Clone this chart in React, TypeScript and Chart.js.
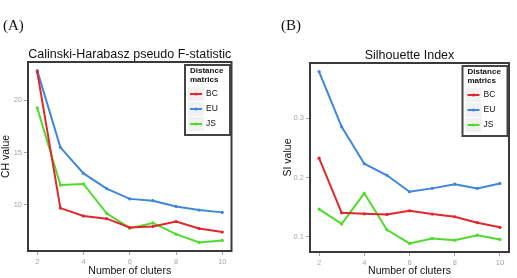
import React, { useEffect, useRef } from "react";
import { Chart, registerables } from "chart.js";

Chart.register(...registerables);

// Number of clusters on the x axis
const clusters = [2, 3, 4, 5, 6, 7, 8, 9, 10];

// Calinski-Harabasz pseudo F-statistic per distance metric
const chBC = [22.7, 9.69, 8.93, 8.68, 7.83, 7.93, 8.4, 7.74, 7.4];
const chEU = [22.83, 15.5, 13.0, 11.55, 10.57, 10.4, 9.85, 9.5, 9.28];
const chJS = [19.27, 11.89, 12.0, 9.19, 7.77, 8.27, 7.2, 6.41, 6.6];

// Silhouette index per distance metric
const siBC = [0.2327, 0.1405, 0.1388, 0.1377, 0.1438, 0.1383, 0.1338, 0.1238, 0.116];
const siEU = [0.3788, 0.2855, 0.2233, 0.2038, 0.176, 0.1817, 0.1888, 0.1817, 0.19];
const siJS = [0.1467, 0.1217, 0.1733, 0.1117, 0.0888, 0.0972, 0.0943, 0.1027, 0.0955];

const xTicks = [2, 4, 6, 8, 10];
const chTicks = [10, 15, 20];
const siTicks = [0.1, 0.2, 0.3];

const metricNames = ["BC", "EU", "JS"];
const metricColors = ["#e2262b", "#3f87d8", "#4fdb2c"];

const SANS = "'Liberation Sans', Arial, Helvetica, sans-serif";

// ggplot-style 5% expansion around the data range
function expand(values: number[]) {
  const lo = Math.min(...values);
  const hi = Math.max(...values);
  const pad = (hi - lo) * 0.05;
  return { min: lo - pad, max: hi + pad };
}

const frameAndKey = {
  id: "frameAndKey",
  afterDatasetsDraw(chart: any) {
    const { ctx, chartArea: a } = chart;
    const title: string = chart.options.plugins.frameAndKey.title;
    ctx.save();

    // panel title
    ctx.fillStyle = "#111";
    ctx.font = `12.5px ${SANS}`;
    ctx.textAlign = "center";
    ctx.textBaseline = "middle";
    ctx.fillText(title, (a.left + a.right) / 2, a.top - 7);

    // panel border
    ctx.strokeStyle = "#3a3a3a";
    ctx.lineWidth = 2;
    ctx.strokeRect(a.left, a.top, a.right - a.left, a.bottom - a.top);

    // legend box in the top-right corner
    const w = 45;
    const h = 70;
    const x = a.right - w - 1.5;
    const y = a.top + 3;
    ctx.fillStyle = "#ffffff";
    ctx.fillRect(x, y, w, h);
    ctx.strokeStyle = "#444";
    ctx.lineWidth = 2;
    ctx.strokeRect(x, y, w, h);

    ctx.fillStyle = "#111";
    ctx.textAlign = "left";
    ctx.font = `bold 8px ${SANS}`;
    ctx.fillText("Distance", x + 5, y + 6);
    ctx.fillText("matrics", x + 5, y + 14.5);

    chart.data.datasets.forEach((ds: any, i: number) => {
      const cy = y + 29 + i * 15;
      ctx.fillStyle = "#f1f1f1";
      ctx.fillRect(x + 3, cy - 7, 16, 14);
      ctx.strokeStyle = ds.borderColor;
      ctx.lineWidth = 2;
      ctx.beginPath();
      ctx.moveTo(x + 5, cy);
      ctx.lineTo(x + 17, cy);
      ctx.stroke();
      ctx.fillStyle = ds.borderColor;
      ctx.beginPath();
      ctx.arc(x + 11, cy, 1.6, 0, Math.PI * 2);
      ctx.fill();
      ctx.fillStyle = "#111";
      ctx.font = `8.5px ${SANS}`;
      ctx.fillText(ds.label, x + 21, cy);
    });
    ctx.restore();
  },
};

type PanelProps = {
  left: number;
  width: number;
  tag: string;
  title: string;
  yTitle: string;
  series: number[][];
  yTicks: number[];
  box: { left: number; right: number; top: number; bottom: number; yTitleLeft: number };
};

function Panel({ left, width, tag, title, yTitle, series, yTicks, box }: PanelProps) {
  const ref = useRef<HTMLCanvasElement>(null);

  useEffect(() => {
    if (!ref.current) return;
    const height = 278;
    const xr = expand(clusters);
    const yr = expand(series.flat());
    const chart = new Chart(ref.current, {
      type: "line",
      data: {
        datasets: series.map((vals, i) => ({
          label: metricNames[i],
          data: clusters.map((c, j) => ({ x: c, y: vals[j] })),
          borderColor: metricColors[i],
          backgroundColor: metricColors[i],
          borderWidth: 2,
          pointRadius: 1.6,
          pointHoverRadius: 1.6,
          pointBorderWidth: 0,
          tension: 0,
        })),
      },
      options: {
        responsive: false,
        animation: false,
        devicePixelRatio: 1,
        layout: {
          padding: { left: box.yTitleLeft, right: width - box.right, top: box.top, bottom: 0 },
        },
        plugins: {
          legend: { display: false },
          title: { display: false },
          tooltip: { enabled: false },
          frameAndKey: { title },
        } as any,
        scales: {
          x: {
            type: "linear",
            min: xr.min,
            max: xr.max,
            afterBuildTicks: (s: any) => {
              s.ticks = xTicks.map((v) => ({ value: v }));
            },
            afterFit: (s: any) => {
              s.height = height - box.bottom;
            },
            ticks: {
              color: "#a6a6a6",
              font: { size: 7.5, family: SANS },
              padding: 2,
              maxRotation: 0,
            },
            grid: { drawOnChartArea: false, tickLength: 4, color: "#a6a6a6", tickWidth: 1 },
            border: { display: false },
            title: {
              display: true,
              text: "Number of cluters",
              color: "#111",
              font: { size: 10.5, family: SANS },
              padding: { top: 0, bottom: 1 },
            },
          },
          y: {
            type: "linear",
            min: yr.min,
            max: yr.max,
            afterBuildTicks: (s: any) => {
              s.ticks = yTicks.map((v) => ({ value: v }));
            },
            afterFit: (s: any) => {
              s.width = box.left - box.yTitleLeft;
            },
            ticks: {
              color: "#a6a6a6",
              font: { size: 7.5, family: SANS },
              padding: 2,
              callback: (v: any) => String(v),
            },
            grid: { drawOnChartArea: false, tickLength: 4, color: "#a6a6a6", tickWidth: 1 },
            border: { display: false },
            title: {
              display: true,
              text: yTitle,
              color: "#111",
              font: { size: 10.5, family: SANS },
              padding: { top: 0, bottom: 0 },
            },
          },
        },
      },
      plugins: [frameAndKey],
    });
    return () => chart.destroy();
  }, []);

  return (
    <div style={{ position: "absolute", left, top: 0, width, height: 278 }}>
      <canvas ref={ref} width={width} height={278} style={{ display: "block" }} />
      <div
        style={{
          position: "absolute",
          left: tag === "(A)" ? 3 : 23,
          top: 15,
          fontFamily: "'Liberation Serif', 'Times New Roman', serif",
          fontSize: 15,
          lineHeight: "20px",
          color: "#111",
        }}
      >
        {tag}
      </div>
    </div>
  );
}

export default function App() {
  return (
    <div style={{ position: "absolute", left: 0, top: 0, width: 517, height: 278, background: "#fff" }}>
      <Panel
        left={0}
        width={258}
        tag="(A)"
        title="Calinski-Harabasz pseudo F-statistic"
        yTitle="CH value"
        series={[chBC, chEU, chJS]}
        yTicks={chTicks}
        box={{ left: 28, right: 231.5, top: 62, bottom: 251, yTitleLeft: 0 }}
      />
      <Panel
        left={258}
        width={259}
        tag="(B)"
        title="Silhouette Index"
        yTitle="SI value"
        series={[siBC, siEU, siJS]}
        yTicks={siTicks}
        box={{ left: 52, right: 251, top: 63, bottom: 252, yTitleLeft: 23.5 }}
      />
    </div>
  );
}
